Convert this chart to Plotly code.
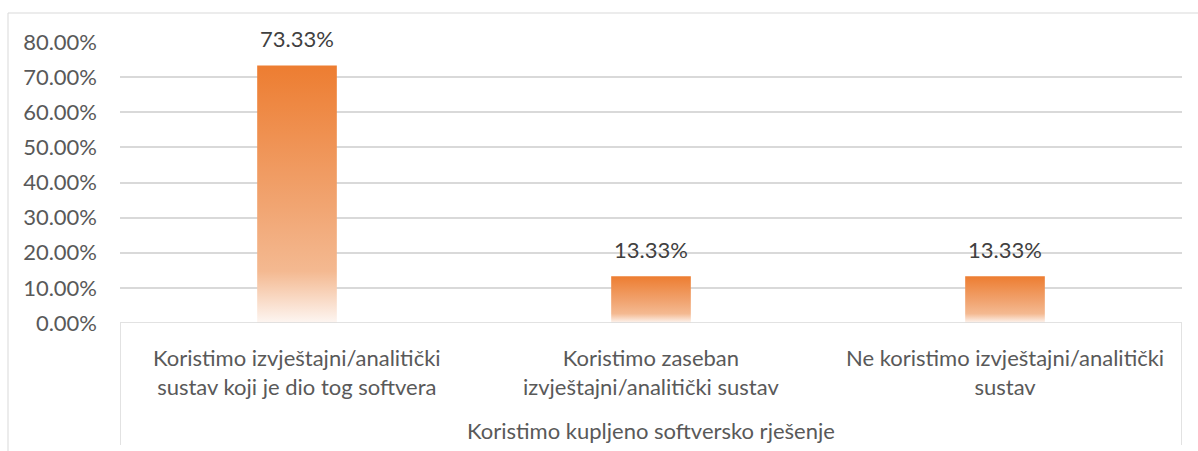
import plotly.graph_objects as go

categories = [
    "Koristimo izvještajni/analitički<br>sustav koji je dio tog softvera",
    "Koristimo zaseban<br>izvještajni/analitički sustav",
    "Ne koristimo izvještajni/analitički<br>sustav",
]
group_label = "Koristimo kupljeno softversko rješenje"
values = [0.7333, 0.1333, 0.1333]
value_labels = ["73.33%", "13.33%", "13.33%"]
tick_vals = [0, 0.1, 0.2, 0.3, 0.4, 0.5, 0.6, 0.7, 0.8]
tick_text = ["0.00%", "10.00%", "20.00%", "30.00%", "40.00%", "50.00%", "60.00%", "70.00%", "80.00%"]

W, H = 1198, 451
ml, mr, mt, mb = 120, 16, 42, 128
bar_w = 0.225
txt = "#595959"
font = "Lato, Carlito, Calibri, sans-serif"
fs = 22

fig = go.Figure()
grad = [[0, "rgba(253,246,242,1)"], [0.2, "rgba(244,185,145,1)"], [0.45, "rgba(241,165,114,1)"], [1, "rgba(237,125,49,1)"]]
for i, v in enumerate(values):
    c = i + 0.5
    xs = [c - bar_w / 2, c + bar_w / 2, c + bar_w / 2, c - bar_w / 2, c - bar_w / 2]
    ys = [0, 0, v, v, 0]
    fig.add_trace(go.Scatter(
        x=xs, y=ys, mode="lines", fill="toself", line=dict(width=0),
        fillgradient=dict(type="vertical", colorscale=grad),
        hoverinfo="skip", showlegend=False))
    fig.add_annotation(x=c, y=v, text=value_labels[i], showarrow=False, yanchor="bottom",
                       yshift=11, font=dict(size=fs, color="#404040", family=font))
    fig.add_annotation(x=c, y=0, text=categories[i], showarrow=False, yanchor="top",
                       yshift=-19, font=dict(size=fs, color=txt, family=font))

fig.add_annotation(x=1.5, y=0, text=group_label, showarrow=False, yanchor="top",
                   yshift=-92, font=dict(size=fs, color=txt, family=font))

# multi-level axis box lines
for xv in [0, 3]:
    fig.add_shape(type="line", xref="x", yref="paper", x0=xv, x1=xv, y0=0, y1=-122 / (H - mt - mb),
                  line=dict(color="#D9D9D9", width=1.5))
fig.add_shape(type="line", xref="x", yref="y", x0=0, x1=3, y0=0, y1=0,
              line=dict(color="#D9D9D9", width=1.5))
# outer chart border
fig.add_shape(type="rect", xref="paper", yref="paper",
              x0=-(ml - 8) / (W - ml - mr), x1=1 + (mr + 20) / (W - ml - mr),
              y0=-(mb + 20) / (H - mt - mb), y1=1 + (mt - 13) / (H - mt - mb),
              line=dict(color="#D9D9D9", width=1), layer="below")

fig.update_layout(
    width=W, height=H, margin=dict(l=ml, r=mr, t=mt, b=mb),
    paper_bgcolor="white", plot_bgcolor="white",
    xaxis=dict(range=[0, 3], showticklabels=False, showgrid=False, zeroline=False, fixedrange=True),
    yaxis=dict(range=[0, 0.8], tickvals=tick_vals, ticktext=tick_text, showgrid=True,
               gridcolor="#D9D9D9", gridwidth=1.5, zeroline=False, ticks="", ticklen=0,
               ticklabelstandoff=22,
               tickfont=dict(size=fs, color=txt, family=font), fixedrange=True),
)
fig.write_html("out.html", config={"displayModeBar": False},
               post_script="document.body.style.margin='0';document.body.style.overflow='hidden';")
